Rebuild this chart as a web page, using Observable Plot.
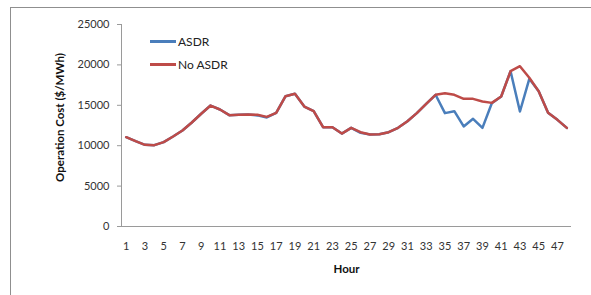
<!DOCTYPE html>
<html><head><meta charset="utf-8">
<script src="https://cdn.jsdelivr.net/npm/d3@7"></script>
<script src="https://cdn.jsdelivr.net/npm/@observablehq/plot@0.6"></script>
<style>
body{margin:0;background:#fff;}
#wrap{position:relative;width:591px;height:295px;overflow:hidden;font-family:Lato,"Open Sans",sans-serif;}
#frame{position:absolute;left:10px;top:7px;right:-2px;bottom:-2px;border-top:1px solid #8f8f8f;border-left:1px solid #8f8f8f;pointer-events:none;}
#legend{position:absolute;left:150px;top:30px;font-size:12px;color:#222;}
#legend .row{display:flex;align-items:center;height:23px;}
#legend .sw{width:26px;height:3px;margin-right:2px;}
</style>
</head><body>
<div id="wrap"><div id="frame"></div><div id="legend"></div></div>
<script>
const hours = [1,2,3,4,5,6,7,8,9,10,11,12,13,14,15,16,17,18,19,20,21,22,23,24,25,26,27,28,29,30,31,32,33,34,35,36,37,38,39,40,41,42,43,44,45,46,47,48];
const noASDR = [11050,10560,10110,10070,10440,11140,11880,12870,13950,14970,14480,13780,13820,13860,13820,13570,14070,16130,16420,14850,14270,12290,12290,11500,12210,11670,11390,11420,11670,12210,13030,14030,15180,16300,16500,16300,15800,15800,15470,15300,16090,19220,19840,18400,16750,14070,13200,12210];
const ASDR = [11050,10560,10110,10070,10440,11140,11880,12870,13950,14970,14480,13780,13820,13860,13750,13500,14070,16130,16420,14850,14270,12290,12290,11500,12210,11600,11390,11420,11670,12210,13030,14030,15180,16300,14030,14270,12380,13330,12210,15260,16090,19220,14230,18280,16750,14070,13200,12210];
const yTicks = [0,5000,10000,15000,20000,25000];
const xTickLabels = [1,3,5,7,9,11,13,15,17,19,21,23,25,27,29,31,33,35,37,39,41,43,45,47];
const seriesNames = ["ASDR","No ASDR"];
const seriesColors = ["#4a7ebb","#be4b48"];

const rows = [];
hours.forEach((h,i)=>rows.push({hour:h,value:ASDR[i],series:"ASDR"}));
hours.forEach((h,i)=>rows.push({hour:h,value:noASDR[i],series:"No ASDR"}));

const chart = Plot.plot({
  width:591, height:295,
  marginLeft:121, marginRight:20, marginTop:24, marginBottom:69,
  style:{fontFamily:"Lato, 'Open Sans', sans-serif", fontSize:"11px", color:"#333", background:"transparent"},
  x:{domain:[0.5, hours.length+0.5]},
  y:{domain:[0,25000]},
  color:{domain:seriesNames, range:seriesColors},
  marks:[
    Plot.ruleY([0],{stroke:"#9a9a9a",strokeWidth:1}),
    Plot.ruleX([0.5],{y1:0,y2:25000,stroke:"#9a9a9a",strokeWidth:1}),
    Plot.axisY({ticks:yTicks, tickSize:4, tickPadding:8, stroke:"#9a9a9a", tickFormat:d=>String(d), label:null, fontSize:11}),
    Plot.axisX({ticks:xTickLabels, tickSize:0, tickPadding:16, tickFormat:d=>String(d), label:null, fontSize:11}),
    Plot.text(["Operation Cost ($/MWh)"],{frameAnchor:"left", textAnchor:"middle", dx:-61, dy:-8, rotate:-90, fontWeight:"bold", fontSize:11.5, fill:"#111"}),
    Plot.text(["Hour"],{frameAnchor:"bottom", dy:46, fontWeight:"bold", fontSize:11.5, fill:"#111"}),
    Plot.line(rows.filter(d=>d.series==="ASDR"),{x:"hour",y:"value",stroke:"series",strokeWidth:2.5}),
    Plot.line(rows.filter(d=>d.series==="No ASDR"),{x:"hour",y:"value",stroke:"series",strokeWidth:2.5})
  ]
});
document.getElementById("wrap").prepend(chart);

const lg = document.getElementById("legend");
seriesNames.forEach((n,i)=>{
  const r=document.createElement("div");r.className="row";
  r.innerHTML=`<div class="sw" style="background:${seriesColors[i]}"></div><span>${n}</span>`;
  lg.appendChild(r);
});
</script>
</body></html>
